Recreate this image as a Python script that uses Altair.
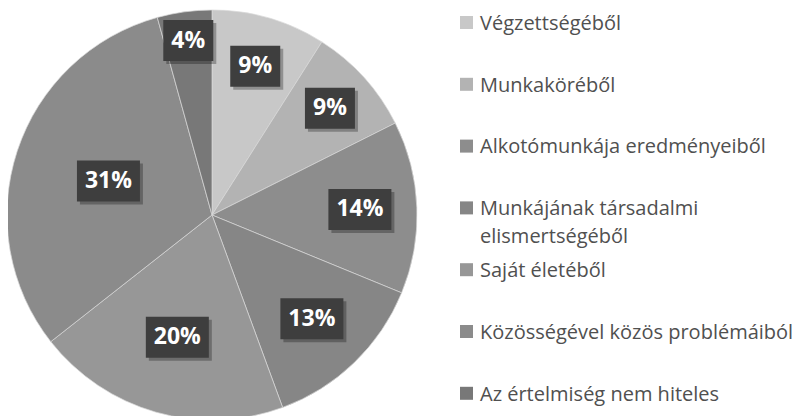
import altair as alt
import pandas as pd

# ---- data ----
CATEGORIES = [
    "Végzettségéből",
    "Munkaköréből",
    "Alkotómunkája eredményeiből",
    "Munkájának társadalmi\nelismertségéből",
    "Saját életéből",
    "Közösségével közös problémáiból",
    "Az értelmiség nem hiteles",
]
VALUES = [9.0, 8.6, 13.6, 13.2, 20.0, 31.3, 4.3]

# ---- styling / layout ----
COLORS = ["#c8c8c8", "#b3b3b3", "#8d8d8d", "#868686", "#979797", "#8b8b8b", "#787878"]
LABEL_RADII = [155, 159, 148, 144, 127, 109, 176]  # best-fit label distance from centre
CX, CY, R = 204, 207, 205
LEG_SWATCH_X, LEG_TEXT_X, LEG_Y0, LEG_STEP = 458.5, 472, 14.5, 61.8
FONT = "Open Sans"

df = pd.DataFrame({
    "cat": CATEGORIES,
    "value": VALUES,
    "idx": list(range(len(CATEGORIES))),
    "lr": LABEL_RADII,
})

color = alt.Color("cat:N", scale=alt.Scale(domain=CATEGORIES, range=COLORS), legend=None)
base = alt.Chart(df)

pie = base.mark_arc(radius=R, stroke="#d9d9d9", strokeWidth=0.7).encode(
    theta=alt.Theta("value:Q", stack=True),
    color=color,
    order=alt.Order("idx:Q"),
    x=alt.value(CX),
    y=alt.value(CY),
)

lab = (
    base.transform_joinaggregate(total="sum(value)")
    .transform_window(cum="sum(value)", sort=[alt.SortField("idx", order="ascending")], frame=[None, 0])
    .transform_calculate(
        mid="(datum.cum - datum.value / 2) / datum.total * 2 * PI",
        label="format(round(datum.value / datum.total * 100), 'd') + '%'",
    )
    .transform_calculate(
        lx=f"{CX} + datum.lr * sin(datum.mid)",
        ly=f"{CY} - datum.lr * cos(datum.mid)",
        hw="12 + 6.5 * length(datum.label)",
    )
    .transform_calculate(
        x1="datum.lx - datum.hw", x2="datum.lx + datum.hw",
        y1="datum.ly - 20.5", y2="datum.ly + 20.5",
        sx1="datum.lx - datum.hw + 3", sx2="datum.lx + datum.hw + 3",
        sy1="datum.ly - 20.5 + 3", sy2="datum.ly + 20.5 + 3",
    )
)

shadow = lab.mark_rect(color="black", opacity=0.28).encode(
    x=alt.X("sx1:Q", scale=None), x2="sx2:Q",
    y=alt.Y("sy1:Q", scale=None), y2="sy2:Q",
)
box = lab.mark_rect(color="#3e3e3e").encode(
    x=alt.X("x1:Q", scale=None), x2="x2:Q",
    y=alt.Y("y1:Q", scale=None), y2="y2:Q",
)
txt = lab.mark_text(color="white", font=FONT, fontWeight="bold", fontSize=23,
                    align="center", baseline="middle").encode(
    x=alt.X("lx:Q", scale=None),
    y=alt.Y("ly:Q", scale=None),
    text="label:N",
)

leg = base.transform_calculate(legy=f"{LEG_Y0} + datum.idx * {LEG_STEP}")
leg_sw = leg.mark_square(size=169, opacity=1, filled=True).encode(
    x=alt.value(LEG_SWATCH_X),
    y=alt.Y("legy:Q", scale=None),
    color=color,
)
leg_tx = leg.mark_text(align="left", baseline="alphabetic", dy=7.2, font=FONT, fontSize=20,
                       color="#505050", lineBreak="\n", lineHeight=28).encode(
    x=alt.value(LEG_TEXT_X),
    y=alt.Y("legy:Q", scale=None),
    text="cat:N",
)

chart = (
    alt.layer(pie, shadow, box, txt, leg_sw, leg_tx)
    .properties(width=790, height=412, padding=0, autosize=alt.AutoSizeParams(type="none"))
    .configure_view(stroke=None)
)

chart.save("out.html", embed_options={"renderer": "svg", "actions": False})
